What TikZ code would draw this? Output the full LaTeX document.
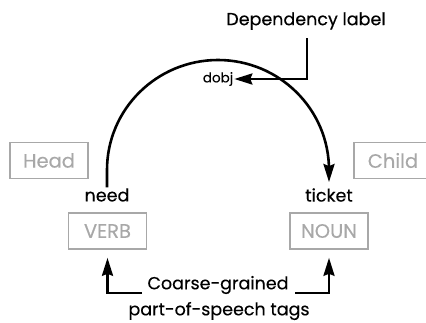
\documentclass[tikz,border=0pt]{standalone}
\usepackage{fontspec}
\setmainfont{Poppins}
\newfontfamily\heavy[FakeBold=0.25]{Poppins}
\usetikzlibrary{arrows.meta}
\definecolor{boxgray}{HTML}{A8A8A8}
\begin{document}
\begin{tikzpicture}[x=1pt,y=-1pt,
  txt/.style={font=\heavy\fontsize{17.5}{19}\selectfont, inner sep=1pt},
  small/.style={font=\heavy\fontsize{13.5}{15}\selectfont, inner sep=1pt},
  tagbox/.style={draw=boxgray, text=boxgray, line width=1.6pt, minimum width=78pt, minimum height=36pt, inner sep=0pt, font=\heavy\fontsize{19.5}{21}\selectfont},
  blk/.style={line width=2.6pt},
  tip/.style={-{Stealth[length=18pt,width=11pt,inset=2pt]}}
]
\useasboundingbox (0,0) rectangle (426,322);
\node[txt] (dep) at (306,21) {Dependency label};
\node[small] (dobj) at (218,79) {dobj};
\node[tagbox] (head) at (49,160.5) {Head};
\node[tagbox] (child) at (393,160.5) {Child};
\node[txt] (need) at (107,195) {need};
\node[txt] (ticket) at (329,195) {ticket};
\node[tagbox] (verb) at (107.5,231) {VERB};
\node[tagbox] (noun) at (329,231) {NOUN};
\node[txt] (coarse) at (218,285) {Coarse-grained};
\node[txt] (pos) at (219,311) {part-of-speech tags};
\coordinate (lk) at (307,38);
\coordinate (bl) at (142,293);
\coordinate (br) at (295,293);
\draw[blk,tip] (lk) |- (dobj.east);
\draw[blk,tip,shorten >=5pt] (need.north) -- (107,170) .. controls (107,109) and (157,60) .. (218,60) .. controls (279,60) and (329,109) .. (329,170) -- (ticket.north);
\draw[blk,tip,shorten >=8pt] (bl) -| (verb.south);
\draw[blk,tip,shorten >=8pt] (br) -| (noun.south);
\end{tikzpicture}
\end{document}
